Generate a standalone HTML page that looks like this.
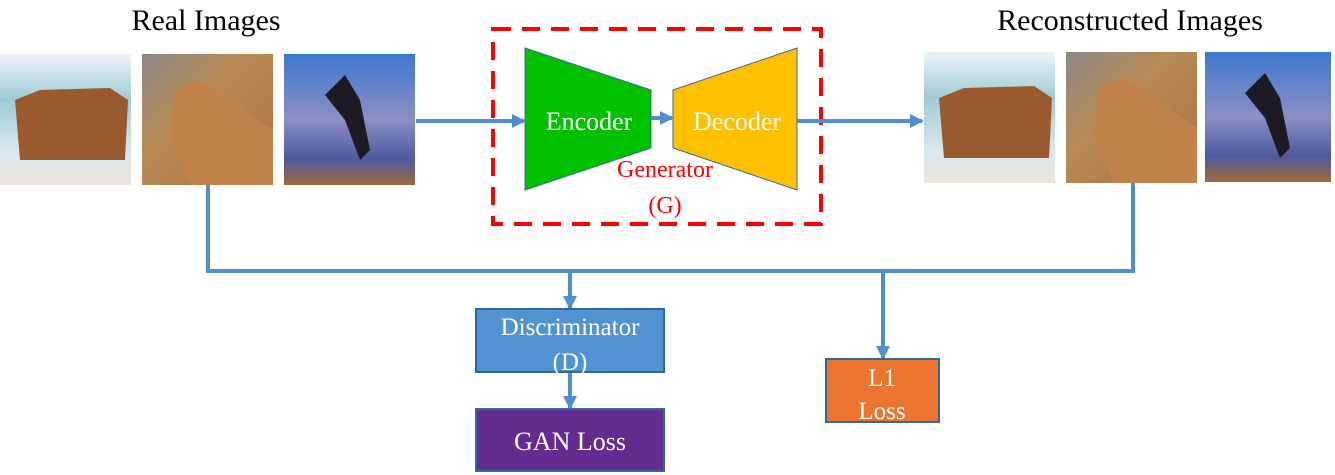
<!DOCTYPE html>
<html><head><style>body{margin:0;background:#fff}svg{display:block}</style></head><body>
<svg width="1335" height="475" xmlns="http://www.w3.org/2000/svg" font-family="Liberation Serif, serif">
<defs>
<linearGradient id="beach" x1="0" y1="0" x2="0" y2="1"><stop offset="0" stop-color="#eef4f7"/><stop offset="0.35" stop-color="#9fcbd6"/><stop offset="0.75" stop-color="#d8e8ee"/><stop offset="1" stop-color="#ebe5da"/></linearGradient>
<linearGradient id="sky" x1="0" y1="0" x2="0" y2="1"><stop offset="0" stop-color="#3d78d0"/><stop offset="0.5" stop-color="#8b8fc4"/><stop offset="0.8" stop-color="#4d5aa0"/><stop offset="1" stop-color="#a06a3a"/></linearGradient>
<linearGradient id="rock" x1="0" y1="0" x2="1" y2="1"><stop offset="0" stop-color="#8a8a86"/><stop offset="0.4" stop-color="#b98a55"/><stop offset="1" stop-color="#a8703e"/></linearGradient>
<marker id="ar" markerWidth="14" markerHeight="14" refX="12" refY="7" orient="auto" markerUnits="userSpaceOnUse"><path d="M0,0 L14,7 L0,14 z" fill="#4f8fcf"/></marker>
</defs>
<text x="206" y="30" font-size="30" text-anchor="middle">Real Images</text>
<text x="1130" y="30" font-size="30" text-anchor="middle">Reconstructed Images</text>
<rect x="0" y="54" width="131" height="131" fill="url(#beach)"/>
<path d="M15,100 L40,90 L110,88 L128,100 L125,160 L20,160 Z" fill="#9a5a2e"/>
<rect x="142" y="54" width="131" height="131" fill="url(#rock)"/>
<path d="M175,90 L200,80 L273,130 L273,185 L190,185 L170,140 Z" fill="#c08248"/>
<rect x="284" y="54" width="131" height="131" fill="url(#sky)"/>
<path d="M325,95 L345,75 L360,100 L370,150 L360,160 L345,120 Z" fill="#1e1a24"/>
<rect x="924" y="52" width="131" height="131" fill="url(#beach)"/>
<path d="M939,98 L964,88 L1034,86 L1052,98 L1049,158 L944,158 Z" fill="#9a5a2e"/>
<rect x="1066" y="52" width="131" height="131" fill="url(#rock)"/>
<path d="M1099,88 L1124,78 L1197,128 L1197,183 L1114,183 L1094,138 Z" fill="#c08248"/>
<rect x="1205" y="52" width="126" height="130" fill="url(#sky)"/>
<path d="M1245,93 L1265,73 L1280,98 L1290,148 L1280,158 L1265,118 Z" fill="#1e1a24"/>
<rect x="493" y="29" width="328" height="195" fill="none" stroke="#f00" stroke-width="4" stroke-dasharray="18,11"/>
<polygon points="525,48 651,90 651,148 525,190" fill="#00c000" stroke="#3a6a9a" stroke-width="1"/>
<polygon points="673,90 797,48 797,190 673,148" fill="#ffc000" stroke="#3a6a9a" stroke-width="1"/>
<text x="589" y="130" font-size="26" fill="#fff" text-anchor="middle">Encoder</text>
<text x="737" y="130" font-size="26" fill="#fff" text-anchor="middle">Decoder</text>
<text x="665" y="177" font-size="24" fill="#f00" text-anchor="middle">Generator</text>
<text x="665" y="213" font-size="24" fill="#f00" text-anchor="middle">(G)</text>
<g stroke="#4f8fcf" stroke-width="4" fill="none">
<line x1="416" y1="121" x2="524" y2="121" marker-end="url(#ar)"/>
<line x1="651" y1="118" x2="672" y2="118" marker-end="url(#ar)"/>
<line x1="797" y1="121" x2="922" y2="121" marker-end="url(#ar)"/>
<polyline points="208,185 208,271 1133,271 1133,183"/>
<line x1="570" y1="271" x2="570" y2="308" marker-end="url(#ar)"/>
<line x1="570" y1="372" x2="570" y2="408" marker-end="url(#ar)"/>
<line x1="883" y1="271" x2="883" y2="358" marker-end="url(#ar)"/>
</g>
<rect x="476" y="309" width="188" height="63" fill="#5093d0" stroke="#2e6a9e" stroke-width="2"/>
<text x="570" y="335" font-size="25" fill="#fff" text-anchor="middle">Discriminator</text>
<text x="570" y="370" font-size="25" fill="#fff" text-anchor="middle">(D)</text>
<rect x="476" y="409" width="188" height="62" fill="#642b91" stroke="#2e6a9e" stroke-width="2"/>
<text x="570" y="450" font-size="26" fill="#fff" text-anchor="middle">GAN Loss</text>
<rect x="826" y="359" width="113" height="63" fill="#eb7430" stroke="#2e6a9e" stroke-width="2"/>
<text x="882" y="386" font-size="25" fill="#fff" text-anchor="middle">L1</text>
<text x="882" y="419" font-size="25" fill="#fff" text-anchor="middle">Loss</text>
</svg>
</body></html>
